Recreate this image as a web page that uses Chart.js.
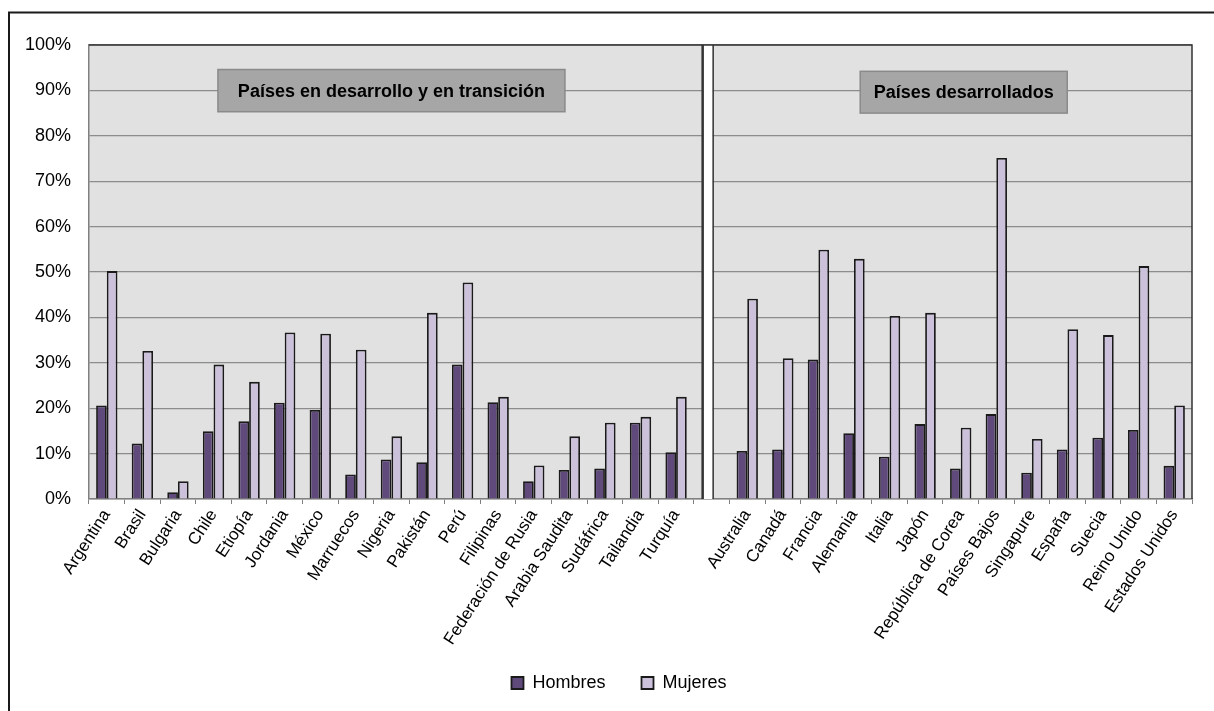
<!DOCTYPE html>
<html><head><meta charset="utf-8">
<script src="https://cdn.jsdelivr.net/npm/chart.js@4.4.1/dist/chart.umd.min.js"></script>
<style>html,body{margin:0;padding:0;background:#fff}#wrap{width:1214px;height:711px;position:relative}</style>
</head><body><div id="wrap"><canvas id="c" width="1214" height="711"></canvas></div>
<script>
const categories = ['Argentina','Brasil','Bulgaria','Chile','Etiopía','Jordania','México','Marruecos','Nigeria','Pakistán','Perú','Filipinas','Federación de Rusia','Arabia Saudita','Sudáfrica','Tailandia','Turquía','',
  'Australia','Canadá','Francia','Alemania','Italia','Japón','República de Corea','Países Bajos','Singapure','España','Suecia','Reino Unido','Estados Unidos'];
const hombres = [20.6,12.2,1.5,14.9,17.1,21.2,19.6,5.4,8.7,8.1,29.6,21.3,3.9,6.4,6.7,16.8,10.3,null,
  10.6,10.9,30.7,14.5,9.3,16.5,6.7,18.7,5.8,10.9,13.5,15.2,7.3];
const mujeres = [50.2,32.6,3.9,29.6,25.8,36.7,36.4,32.9,13.8,41.0,47.7,22.5,7.4,13.8,16.8,18.1,22.5,null,
  44.1,31.0,54.9,52.9,40.3,41.0,15.7,75.1,13.2,37.4,36.1,51.3,20.6];
const seriesNames = ['Hombres','Mujeres'];
const groupLabels = ['Países en desarrollo y en transición','Países desarrollados'];
const yMin = 0, yMax = 100, yStep = 10;
const gapIndex = 17;

const FONT = "'Liberation Sans', Arial, sans-serif";

const decorPlugin = {
  id: 'decor',
  beforeDraw(chart) {
    const {ctx, chartArea: a} = chart;
    ctx.save();
    ctx.fillStyle = '#e1e1e1';
    ctx.fillRect(a.left, a.top, a.right - a.left, a.bottom - a.top);
    ctx.restore();
  },
  afterDatasetsDraw(chart) {
    const {ctx, chartArea: a, scales} = chart;
    ctx.save();
    const sx = scales.x.getPixelForValue(gapIndex) - 4;
    ctx.fillStyle = '#ffffff';
    ctx.fillRect(sx - 5, a.top, 10, a.bottom - a.top);
    ctx.strokeStyle = '#333333';
    ctx.lineWidth = 2.5;
    ctx.beginPath(); ctx.moveTo(sx - 5, a.top); ctx.lineTo(sx - 5, a.bottom); ctx.stroke();
    ctx.lineWidth = 1.5;
    ctx.beginPath(); ctx.moveTo(sx + 5.5, a.top); ctx.lineTo(sx + 5.5, a.bottom); ctx.stroke();
    ctx.strokeStyle = '#333333';
    ctx.lineWidth = 1.5;
    ctx.beginPath();
    ctx.moveTo(a.left, a.top); ctx.lineTo(a.right, a.top); ctx.lineTo(a.right, a.bottom);
    ctx.stroke();
    const boxes = [
      {text: groupLabels[0], cat: 8, dx: 0, w: 347, top: 94.6, bottom: 85.3},
      {text: groupLabels[1], cat: 24, dx: 3, w: 207, top: 94.2, bottom: 85.0}
    ];
    boxes.forEach(b => {
      const cx = scales.x.getPixelForValue(b.cat) + b.dx;
      const y1 = scales.y.getPixelForValue(b.top), y2 = scales.y.getPixelForValue(b.bottom);
      ctx.fillStyle = '#a6a6a6';
      ctx.fillRect(cx - b.w / 2, y1, b.w, y2 - y1);
      ctx.strokeStyle = '#8a8a8a';
      ctx.lineWidth = 1.5;
      ctx.strokeRect(cx - b.w / 2, y1, b.w, y2 - y1);
      ctx.fillStyle = '#000';
      ctx.font = 'bold 18px ' + FONT;
      ctx.textAlign = 'center';
      ctx.textBaseline = 'middle';
      ctx.fillText(b.text, cx, (y1 + y2) / 2 + 1);
    });
    ctx.restore();
  },
  afterDraw(chart) {
    const {ctx} = chart;
    ctx.save();
    ctx.strokeStyle = '#1a1a1a';
    ctx.lineWidth = 2;
    ctx.beginPath();
    ctx.moveTo(9, 711); ctx.lineTo(9, 12.5); ctx.lineTo(1214, 12.5);
    ctx.stroke();
    ctx.restore();
  },
  afterLayout(chart) {
    if (chart.legend) {
      chart.legend.left += 23; chart.legend.right += 23;
      chart.legend.top -= 9; chart.legend.bottom -= 9;
    }
  }
};

new Chart(document.getElementById('c'), {
  type: 'bar',
  data: {
    labels: categories,
    datasets: [
      {label: seriesNames[0], data: hombres, backgroundColor: '#604a7b', borderColor: '#1a1a1a', borderWidth: 1.8},
      {label: seriesNames[1], data: mujeres, backgroundColor: '#ccc1da', borderColor: '#1a1a1a', borderWidth: 1.8}
    ]
  },
  options: {
    responsive: false,
    devicePixelRatio: 1,
    animation: false,
    layout: {padding: {top: 45, right: 22, bottom: 0, left: 0}},
    datasets: {bar: {categoryPercentage: 0.6, barPercentage: 1.0}},
    scales: {
      x: {
        grid: {drawOnChartArea: false, drawTicks: true, tickLength: 5, color: '#808080', offset: true},
        border: {color: '#808080', width: 1.5},
        ticks: {autoSkip: false, minRotation: 57, maxRotation: 57, color: '#000', font: {family: FONT, size: 17}, padding: 2},
        afterFit(s) { s.height = 148; }
      },
      y: {
        min: yMin, max: yMax,
        grid: {color: '#8c8c8c', lineWidth: 1.2, drawTicks: false},
        border: {color: '#808080', width: 1.5},
        ticks: {stepSize: yStep, color: '#000', padding: 18, font: {family: FONT, size: 18}, callback: v => v + '%'},
        afterFit(s) { s.width = 89; }
      }
    },
    plugins: {
      tooltip: {enabled: false},
      legend: {
        position: 'bottom',
        labels: {boxWidth: 12, boxHeight: 12, padding: 36, color: '#000', font: {family: FONT, size: 18}}
      }
    }
  },
  plugins: [decorPlugin]
});
</script></body></html>
